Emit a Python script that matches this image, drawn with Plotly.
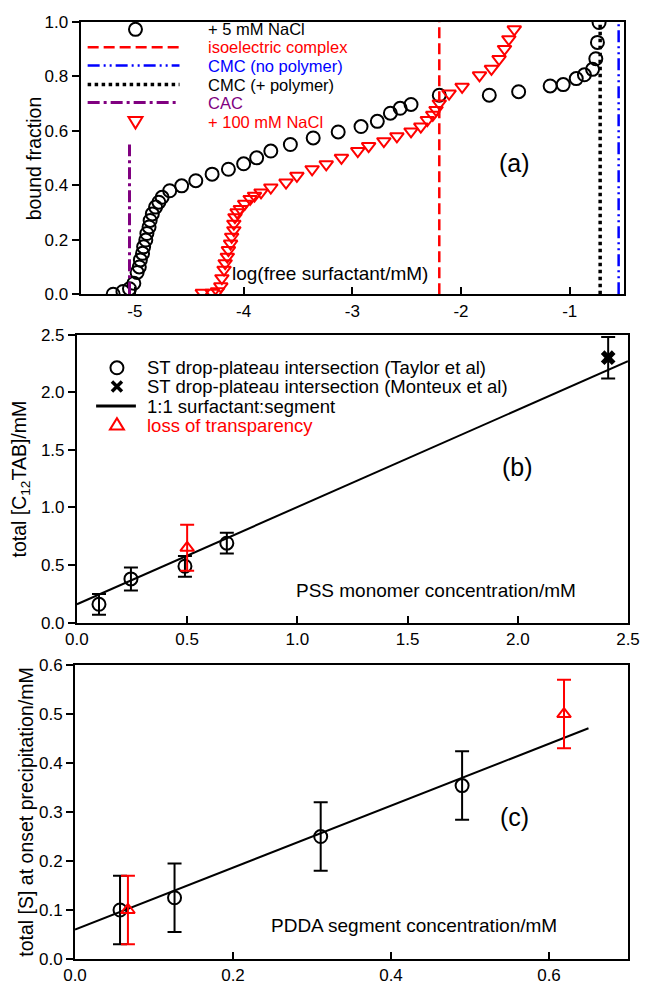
import plotly.graph_objects as go

# ---------------- panel (a): bound fraction vs log(free surfactant) ----------------
nacl5_log_free = [-5.20, -5.11, -5.05, -5.01, -4.98, -4.96, -4.95, -4.93, -4.92, -4.90,
                  -4.89, -4.87, -4.86, -4.84, -4.81, -4.78, -4.75, -4.68, -4.57, -4.44,
                  -4.29, -4.14, -4.00, -3.88, -3.75, -3.57, -3.36, -3.13, -2.92, -2.77,
                  -2.65, -2.56, -2.46, -2.20, -1.74, -1.47, -1.18, -1.06, -0.94, -0.865,
                  -0.79, -0.76, -0.745, -0.73]
nacl5_bound = [0.00, 0.01, 0.02, 0.04, 0.08, 0.10, 0.126, 0.15, 0.174, 0.199,
               0.223, 0.247, 0.271, 0.295, 0.32, 0.338, 0.356, 0.38, 0.398, 0.417,
               0.441, 0.459, 0.479, 0.501, 0.526, 0.55, 0.574, 0.596, 0.616, 0.635,
               0.665, 0.683, 0.697, 0.731, 0.731, 0.744, 0.765, 0.77, 0.792, 0.806,
               0.826, 0.865, 0.925, 0.998]

nacl100_log_free = [-4.38, -4.29, -4.24, -4.21, -4.20, -4.18, -4.17, -4.15, -4.14, -4.12,
                    -4.11, -4.09, -4.09, -4.08, -4.06, -4.03, -3.99, -3.94, -3.90, -3.84,
                    -3.75, -3.61, -3.51, -3.37, -3.24, -3.10, -2.95, -2.85, -2.71, -2.59,
                    -2.46, -2.37, -2.31, -2.26, -2.23, -2.20, -2.11, -1.99, -1.83, -1.72,
                    -1.65, -1.60, -1.56, -1.51]
nacl100_bound = [0.005, 0.005, 0.011, 0.029, 0.059, 0.09, 0.114, 0.138, 0.162, 0.186,
                 0.211, 0.235, 0.259, 0.283, 0.301, 0.313, 0.332, 0.35, 0.362, 0.374,
                 0.392, 0.41, 0.435, 0.459, 0.477, 0.501, 0.526, 0.544, 0.562, 0.58,
                 0.598, 0.616, 0.64, 0.659, 0.677, 0.701, 0.737, 0.762, 0.804, 0.828,
                 0.864, 0.901, 0.937, 0.973]

log_isoelectric = -2.2
log_cmc_no_polymer = -0.55
log_cmc_polymer = -0.72
log_cac = -5.05
cac_bound_top = 0.55
a_xticks = [-5, -4, -3, -2, -1]
a_xtick_labels = ["-5", "-4", "-3", "-2", "-1"]

# ---------------- panel (b): C12TAB vs PSS ----------------
pss_taylor = [0.10, 0.245, 0.49, 0.68]
c12tab_taylor = [0.16, 0.38, 0.49, 0.69]
c12tab_taylor_err = [0.09, 0.10, 0.09, 0.09]
pss_monteux = [2.41]
c12tab_monteux = [2.30]
c12tab_monteux_err = [0.18]
pss_transparency = [0.50]
c12tab_transparency = [0.65]
c12tab_transparency_err = [0.20]
pss_fit = [0.0, 2.5]
c12tab_fit = [0.16, 2.27]

# ---------------- panel (c): surfactant at precipitation vs PDDA ----------------
pdda_taylor = [0.057, 0.126, 0.311, 0.49]
s_taylor = [0.10, 0.125, 0.25, 0.354]
s_taylor_err = [0.07, 0.07, 0.07, 0.07]
pdda_transparency = [0.067, 0.619]
s_transparency = [0.10, 0.50]
s_transparency_err = [0.07, 0.07]
pdda_fit = [0.0, 0.65]
s_fit = [0.06, 0.471]

FONT = "Liberation Sans, Arial, sans-serif"
RED = "#ff0000"
BLUE = "#0000ff"
PURPLE = "#800080"

DASH_ISO = "11px,5px"
DASH_CMC0 = "12px,4px,2px,4px,2px,4px"
DASH_CMC1 = "3.5px,3.5px"
DASH_CAC = "12px,4px,3px,4px"

fig = go.Figure()

# ---- panel (a) markers
fig.add_trace(go.Scatter(x=nacl5_log_free, y=nacl5_bound, mode="markers",
                         marker=dict(symbol="circle-open", size=13, color="black", line=dict(width=2)),
                         xaxis="x", yaxis="y", showlegend=False))
fig.add_trace(go.Scatter(x=nacl100_log_free, y=nacl100_bound, mode="markers",
                         marker=dict(symbol="triangle-down-open", size=12, color=RED, line=dict(width=2)),
                         xaxis="x", yaxis="y", showlegend=False))
# ---- panel (a) reference concentrations
fig.add_trace(go.Scatter(x=[log_isoelectric] * 2, y=[0, 1], mode="lines",
                         line=dict(color=RED, width=2.5, dash=DASH_ISO), xaxis="x", yaxis="y", showlegend=False))
fig.add_trace(go.Scatter(x=[log_cmc_no_polymer] * 2, y=[0, 1], mode="lines",
                         line=dict(color=BLUE, width=2.5, dash=DASH_CMC0), xaxis="x", yaxis="y", showlegend=False))
fig.add_trace(go.Scatter(x=[log_cmc_polymer] * 2, y=[0, 1], mode="lines",
                         line=dict(color="black", width=3.5, dash=DASH_CMC1), xaxis="x", yaxis="y", showlegend=False))
fig.add_trace(go.Scatter(x=[log_cac] * 2, y=[0, cac_bound_top], mode="lines",
                         line=dict(color=PURPLE, width=3, dash=DASH_CAC), xaxis="x", yaxis="y", showlegend=False))

# ---- panel (b)
fig.add_trace(go.Scatter(x=pss_fit, y=c12tab_fit, mode="lines", line=dict(color="black", width=2),
                         xaxis="x2", yaxis="y2", showlegend=False))
fig.add_trace(go.Scatter(x=pss_taylor, y=c12tab_taylor, mode="markers",
                         marker=dict(symbol="circle-open", size=13, color="black", line=dict(width=2)),
                         error_y=dict(type="data", array=c12tab_taylor_err, color="black", thickness=2, width=7),
                         xaxis="x2", yaxis="y2", showlegend=False))
fig.add_trace(go.Scatter(x=pss_monteux, y=c12tab_monteux, mode="markers",
                         marker=dict(symbol="x", size=13, color="black", line=dict(width=0)),
                         error_y=dict(type="data", array=c12tab_monteux_err, color="black", thickness=2, width=7),
                         xaxis="x2", yaxis="y2", showlegend=False))
fig.add_trace(go.Scatter(x=pss_transparency, y=c12tab_transparency, mode="markers",
                         marker=dict(symbol="triangle-up-open", size=12, color=RED, line=dict(width=2)),
                         error_y=dict(type="data", array=c12tab_transparency_err, color=RED, thickness=2, width=7),
                         xaxis="x2", yaxis="y2", showlegend=False))

# ---- panel (c)
fig.add_trace(go.Scatter(x=pdda_fit, y=s_fit, mode="lines", line=dict(color="black", width=2),
                         xaxis="x3", yaxis="y3", showlegend=False))
fig.add_trace(go.Scatter(x=pdda_taylor, y=s_taylor, mode="markers",
                         marker=dict(symbol="circle-open", size=13, color="black", line=dict(width=2)),
                         error_y=dict(type="data", array=s_taylor_err, color="black", thickness=2, width=7),
                         xaxis="x3", yaxis="y3", showlegend=False))
fig.add_trace(go.Scatter(x=pdda_transparency, y=s_transparency, mode="markers",
                         marker=dict(symbol="triangle-up-open", size=12, color=RED, line=dict(width=2)),
                         error_y=dict(type="data", array=s_transparency_err, color=RED, thickness=2, width=7),
                         xaxis="x3", yaxis="y3", showlegend=False))

tickfont = dict(family=FONT, size=17, color="black")
xcommon = dict(showline=True, linecolor="black", linewidth=2, mirror=True, showgrid=False,
               zeroline=False, ticks="inside", ticklen=7, tickwidth=2, tickcolor="black", tickfont=tickfont)
ycommon = dict(showline=True, linecolor="black", linewidth=2, mirror=True, showgrid=False,
               zeroline=False, ticks="outside", ticklen=7, tickwidth=2, tickcolor="black", tickfont=tickfont,
               tickformat=".1f")

fig.update_layout(
    width=651, height=996,
    margin=dict(l=75, r=11, t=22, b=24),
    paper_bgcolor="white", plot_bgcolor="white",
    font=dict(family=FONT, color="black"),
    xaxis=dict(xcommon, domain=[0.0101, 0.9929], range=[-5.5, -0.5], tickvals=a_xticks,
               ticktext=a_xtick_labels, anchor="y"),
    yaxis=dict(ycommon, domain=[0.7095, 1.0], range=[0, 1], dtick=0.2, anchor="x"),
    xaxis2=dict(xcommon, domain=[0.0035, 1.0], range=[0, 2.5], dtick=0.5, tickformat=".1f", anchor="y2"),
    yaxis2=dict(ycommon, domain=[0.3589, 0.6663], range=[0, 2.5], dtick=0.5, anchor="x2"),
    xaxis3=dict(xcommon, domain=[0.0, 1.0], range=[0, 0.7], tickvals=[0, 0.2, 0.4, 0.6],
                tickformat=".1f", anchor="y3"),
    yaxis3=dict(ycommon, domain=[0.0, 0.3137], range=[0, 0.6], dtick=0.1, anchor="x3"),
)

shapes = []
annotations = []


def legend_line(xref, yref, x0, x1, y, color, width, dash):
    shapes.append(dict(type="line", xref=xref, yref=yref, x0=x0, x1=x1, y0=y, y1=y,
                       line=dict(color=color, width=width, dash=dash)))


def legend_path(xref, yref, x, y, path, color, width, fill="rgba(0,0,0,0)"):
    shapes.append(dict(type="path", xref=xref, yref=yref, xsizemode="pixel", ysizemode="pixel",
                       xanchor=x, yanchor=y, path=path, fillcolor=fill,
                       line=dict(color=color, width=width)))


def legend_circle(xref, yref, x, y, color):
    shapes.append(dict(type="circle", xref=xref, yref=yref, xsizemode="pixel", ysizemode="pixel",
                       xanchor=x, yanchor=y, x0=-6.5, x1=6.5, y0=-6.5, y1=6.5,
                       line=dict(color=color, width=2)))


def legend_text(xref, yref, x, y, text, color, size):
    annotations.append(dict(xref=xref, yref=yref, x=x, y=y, text=text, showarrow=False,
                            xanchor="left", yanchor="middle", font=dict(family=FONT, size=size, color=color)))


TRI_DOWN = "M-7,4.5 L7,4.5 L0,-7 Z"
TRI_UP = "M-7,-4.5 L7,-4.5 L0,7 Z"

# ---- legend, panel (a)
la_rows = [0.973, 0.907, 0.840, 0.770, 0.704, 0.634]
la_text_x = 0.231
la_size = 16.5
legend_circle("x domain", "y domain", 0.101, la_rows[0], "black")
legend_text("x domain", "y domain", la_text_x, la_rows[0], "+ 5 mM NaCl", "black", la_size)
legend_line("x domain", "y domain", 0.013, 0.182, la_rows[1], RED, 2.5, DASH_ISO)
legend_text("x domain", "y domain", la_text_x, la_rows[1], "isoelectric complex", RED, la_size)
legend_line("x domain", "y domain", 0.013, 0.182, la_rows[2], BLUE, 2.5, DASH_CMC0)
legend_text("x domain", "y domain", la_text_x, la_rows[2], "CMC (no polymer)", BLUE, la_size)
legend_line("x domain", "y domain", 0.013, 0.182, la_rows[3], "black", 3.5, DASH_CMC1)
legend_text("x domain", "y domain", la_text_x, la_rows[3], "CMC (+ polymer)", "black", la_size)
legend_line("x domain", "y domain", 0.013, 0.182, la_rows[4], PURPLE, 3, DASH_CAC)
legend_text("x domain", "y domain", la_text_x, la_rows[4], "CAC", PURPLE, la_size)
legend_path("x domain", "y domain", 0.101, la_rows[5], TRI_DOWN, RED, 2)
legend_text("x domain", "y domain", la_text_x, la_rows[5], "+ 100 mM NaCl", RED, la_size)

# ---- legend, panel (b)
lb_rows = [0.885, 0.820, 0.752, 0.686]
lb_text_x = 0.1236
lb_size = 18.5
legend_circle("x2 domain", "y2 domain", 0.0726, lb_rows[0], "black")
legend_text("x2 domain", "y2 domain", lb_text_x, lb_rows[0],
            "ST drop-plateau intersection (Taylor et al)", "black", lb_size)
legend_path("x2 domain", "y2 domain", 0.0726, lb_rows[1], "M-5,-5 L5,5 M-5,5 L5,-5", "black", 3.5)
legend_text("x2 domain", "y2 domain", lb_text_x, lb_rows[1],
            "ST drop-plateau intersection (Monteux et al)", "black", lb_size)
legend_line("x2 domain", "y2 domain", 0.0348, 0.107, lb_rows[2], "black", 3, "solid")
legend_text("x2 domain", "y2 domain", lb_text_x, lb_rows[2], "1:1 surfactant:segment", "black", lb_size)
legend_path("x2 domain", "y2 domain", 0.0726, lb_rows[3], TRI_UP, RED, 2)
legend_text("x2 domain", "y2 domain", lb_text_x, lb_rows[3], "loss of transparency", RED, lb_size)


# ---- in-plot axis titles and panel tags
def centered_text(xref, yref, x, y, text, size):
    annotations.append(dict(xref=xref, yref=yref, x=x, y=y, text=text, showarrow=False,
                            xanchor="center", yanchor="middle", font=dict(family=FONT, size=size, color="black")))


centered_text("x domain", "y domain", 0.459, 0.076, "log(free surfactant/mM)", 19)
centered_text("x2 domain", "y2 domain", 0.652, 0.111, "PSS monomer concentration/mM", 19)
centered_text("x3 domain", "y3 domain", 0.613, 0.114, "PDDA segment concentration/mM", 19)
centered_text("x domain", "y domain", 0.798, 0.483, "(a)", 25)
centered_text("x2 domain", "y2 domain", 0.80, 0.539, "(b)", 25)
centered_text("x3 domain", "y3 domain", 0.794, 0.482, "(c)", 25)

# ---- y-axis titles
for x, y, text in [(-0.075, 0.854, "bound fraction"),
                   (-0.098, 0.5126, "total [C<sub>12</sub>TAB]/mM"),
                   (-0.089, 0.157, "total [S] at onset precipitation/mM")]:
    annotations.append(dict(xref="paper", yref="paper", x=x, y=y, text=text, textangle=-90,
                            showarrow=False, xanchor="center", yanchor="middle",
                            font=dict(family=FONT, size=19.5, color="black")))

fig.update_layout(shapes=shapes, annotations=annotations)
fig.write_html("out.html")
